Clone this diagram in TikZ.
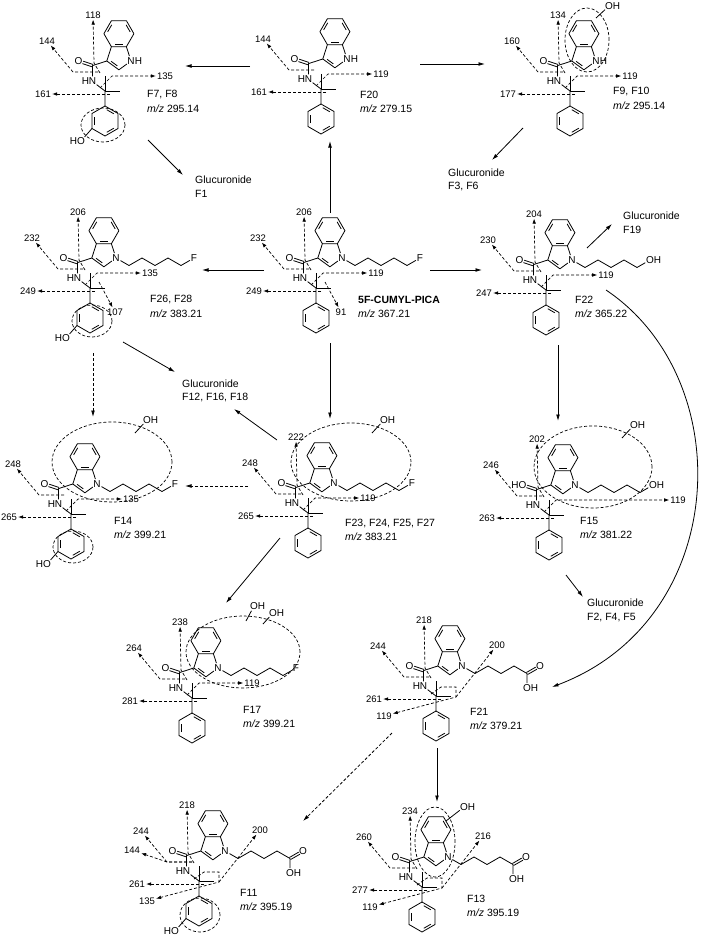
\documentclass[tikz,border=0pt]{standalone}
\usepackage{fontspec}
\setmainfont{Liberation Sans}
\usetikzlibrary{calc,arrows.meta,shapes.geometric}
\tikzset{
 bond/.style={line width=0.8pt,line join=round},
 atom/.style={circle,inner sep=0pt,minimum size=8.4pt,font=\fontsize{10}{12}\selectfont},
 htext/.style={inner sep=0pt,font=\fontsize{10}{12}\selectfont},
 frag/.style={line width=0.7pt,dash pattern=on 3pt off 2pt,-{Latex[length=5pt,width=3.6pt]}},
 flab/.style={inner sep=1pt,font=\fontsize{9.5}{11}\selectfont},
 rxn/.style={line width=0.8pt,-{Latex[length=6.5pt,width=3.8pt]}},
 drxn/.style={line width=0.8pt,dash pattern=on 3pt off 2pt,-{Latex[length=6.5pt,width=3.8pt]}},
 ell/.style={ellipse,draw,line width=0.7pt,dash pattern=on 3pt off 2pt,inner sep=0pt},
 txt/.style={anchor=west,inner sep=0pt,font=\fontsize{10.5}{12}\selectfont},
}
\newcommand\dbl[3]{\draw[bond] ($(#1)!0.17!(#2)!2.5pt!(#3)$) -- ($(#1)!0.83!(#2)!2.5pt!(#3)$);}
\newcommand\core[3]{%
\begin{scope}[shift={(#2,#3)}]
 \node[atom] (#1N) at (0,0) {N};
 \coordinate (#1C3a) at (-19.6,-14.3);
 \coordinate (#1C7a) at (-4.6,-14.3);
 \coordinate (#1C7) at (2.9,-27.3);
 \coordinate (#1C6) at (-4.6,-40.3);
 \coordinate (#1C5) at (-19.6,-40.3);
 \coordinate (#1C4) at (-27.1,-27.3);
 \coordinate (#1hc) at (-12.1,-27.3);
 \coordinate (#1pc) at (-12.1,-4.0);
 \coordinate (#1C2) at (-12.1,8.8);
 \coordinate (#1C3) at (-24.2,0);
 \coordinate (#1Cc) at (-38.5,4.6);
 \coordinate (#1Co1) at (-38.1,3.4); \coordinate (#1Oe1) at (-47.8,0.2);
 \coordinate (#1Co2) at (-38.9,5.8); \coordinate (#1Oe2) at (-48.6,2.6);
 \node[atom] (#1O) at (-52.5,0) {O};
 \node[atom] (#1Na) at (-38.5,20.5) {N};
 \node[htext] (#1Ha) at (-45.6,20.5) {H};
 \coordinate (#1Cq) at (-26,30);
 \coordinate (#1Me1) at (-11,30);
 \coordinate (#1Me2) at (-26,15);
 \coordinate (#1P1) at (-26,45);
 \coordinate (#1P2) at (-13,52.5);
 \coordinate (#1P3) at (-13,67.5);
 \coordinate (#1P4) at (-26,75);
 \coordinate (#1P5) at (-39,67.5);
 \coordinate (#1P6) at (-39,52.5);
 \coordinate (#1Pc) at (-26,60);
\end{scope}
\draw[bond] (#1C3a)--(#1C4)--(#1C5)--(#1C6)--(#1C7)--(#1C7a)--cycle;
\draw[bond] (#1C7a)--(#1N)--(#1C2)--(#1C3)--(#1C3a);
\dbl{#1C4}{#1C5}{#1hc}\dbl{#1C6}{#1C7}{#1hc}\dbl{#1C3a}{#1C7a}{#1hc}\dbl{#1C2}{#1C3}{#1pc}
\draw[bond] (#1C3)--(#1Cc)--(#1Na)--(#1Cq)--(#1P1);
\draw[bond] (#1Co1)--(#1Oe1) (#1Co2)--(#1Oe2);
\draw[bond] (#1Me2)--(#1Cq)--(#1Me1);
\draw[bond] (#1P1)--(#1P2)--(#1P3)--(#1P4)--(#1P5)--(#1P6)--cycle;
\dbl{#1P1}{#1P2}{#1Pc}\dbl{#1P3}{#1P4}{#1Pc}\dbl{#1P5}{#1P6}{#1Pc}
}
\newcommand\nh[1]{\node[htext] (#1Hn) at ($(#1N)+(7.4,0)$) {H};}
\newcommand\chain[4]{%
\begin{scope}[shift={(#2,#3)}]
 \coordinate (#1ch1) at (13,7.5); \coordinate (#1ch2) at (26,0); \coordinate (#1ch3) at (39,7.5);
 \coordinate (#1ch4) at (52,0); \coordinate (#1ch5) at (65,7.5);
 \node[atom] (#1X) at (78,0) {#4};
\end{scope}
\draw[bond] (#1N)--(#1ch1)--(#1ch2)--(#1ch3)--(#1ch4)--(#1ch5)--(#1X);}
\newcommand\acid[3]{%
\begin{scope}[shift={(#2,#3)}]
 \coordinate (#1ch1) at (13,7.5); \coordinate (#1ch2) at (26,0); \coordinate (#1ch3) at (39,7.5);
 \coordinate (#1ch4) at (52,0); \coordinate (#1ch5) at (65,7.5);
 \coordinate (#1oa1) at (64.4,6.5); \coordinate (#1oa1e) at (73.7,1.1);
 \coordinate (#1oa2) at (65.6,8.5); \coordinate (#1oa2e) at (74.9,3.2);
 \node[atom] (#1O2) at (78,0) {O};
 \node[atom] (#1O3) at (65,22.5) {O};
 \node[htext] (#1H3) at (72.4,22.5) {H};
\end{scope}
\draw[bond] (#1N)--(#1ch1)--(#1ch2)--(#1ch3)--(#1ch4)--(#1ch5)--(#1O3);
\draw[bond] (#1oa1)--(#1oa1e) (#1oa2)--(#1oa2e);}
\newcommand\phoh[3]{%
\begin{scope}[shift={(#2,#3)}]
 \node[atom] (#1Ph) at (-50,80) {O};
 \node[htext] (#1PhH) at (-57.4,80) {H};
\end{scope}
\draw[bond] (#1P5)--(#1Ph);}
\newcommand\ohb[5]{%
 \coordinate (#1os) at (#2,#3);
 \node[atom] (#1oO) at (#4,#5) {O};
 \node[htext] (#1oH) at (#4+7.4,#5) {H};
 \draw[bond] (#1os)--(#1oO);}
% fragment arrows
\newcommand\fA[4]{%
\begin{scope}[shift={(#2,#3)}]
 \coordinate (#1fa1) at (-33,11); \coordinate (#1fa2) at (-58,11);
 \node[flab] (#1faL) at (-84,-20) {#4};
\end{scope}
\draw[frag] (#1fa1)--(#1fa2)--(#1faL);}
\newcommand\fAp[4]{%
\begin{scope}[shift={(#2,#3)}]
 \node[flab] (#1fpL) at (-93,-1) {#4};
\end{scope}
\draw[frag] (#1fa1)--(#1fa2)--(#1fpL);}
\newcommand\fB[4]{%
\begin{scope}[shift={(#2,#3)}]
 \coordinate (#1fb1) at (-31,12); \coordinate (#1fb2) at (-37,2);
 \node[flab] (#1fbL) at (-38,-46) {#4};
\end{scope}
\draw[frag] (#1fb1)--(#1fb2)--(#1fbL);}
\newcommand\fC[5]{%
\begin{scope}[shift={(#2,#3)}]
 \coordinate (#1fc1) at (-31,27); \coordinate (#1fc2) at (-19,15);
 \node[flab] (#1fcL) at (#5,15) {#4};
\end{scope}
\draw[frag] (#1fc1)--(#1fc2)--(#1fcL);}
\newcommand\fD[4]{%
\begin{scope}[shift={(#2,#3)}]
 \coordinate (#1fd1) at (-21,33);
 \node[flab] (#1fdL) at (-88,33) {#4};
\end{scope}
\draw[frag] (#1fd1)--(#1fdL);}
\newcommand\fE[4]{%
\begin{scope}[shift={(#2,#3)}]
 \coordinate (#1fe1) at (-17,24);
 \node[flab] (#1feL) at (-1,54) {#4};
\end{scope}
\draw[frag] (#1fe1)--(#1feL);}
\newcommand\fG[4]{%
\begin{scope}[shift={(#2,#3)}]
 \coordinate (#1fg1) at (-6,31);
 \node[flab] (#1fgL) at (35,-21) {#4};
\end{scope}
\draw[frag] (#1fg1)--(#1fgL);}
\newcommand\fH[4]{%
\begin{scope}[shift={(#2,#3)}]
 \coordinate (#1fh1) at (-31,28); \coordinate (#1fh2) at (-21,21);
 \coordinate (#1fh3) at (-6,21); \coordinate (#1fh4) at (-6,31);
 \node[flab] (#1fhL) at (-78,50) {#4};
\end{scope}
\draw[frag] (#1fh1)--(#1fh2)--(#1fh3)--(#1fh4)--(#1fhL);}

\begin{document}
\begin{tikzpicture}[x=1pt,y=-1pt]
\useasboundingbox (0,0) rectangle (709,939);
\fill[white] (0,0) rectangle (709,939);

% ---------- F7, F8
\core{a}{131}{61}\nh{a}
\fB{a}{131}{61}{118}\fA{a}{131}{61}{144}\fC{a}{131}{61}{135}{34}\fD{a}{131}{61}{161}
\phoh{a}{131}{61}
\node[ell,minimum width=44pt,minimum height=34pt] (ael) at (103,125) {};
\node[txt] (an1) at (147,95) {F7, F8};
\node[txt] (an2) at (147,109) {\textit{m/z} 295.14};

% ---------- F20
\core{b}{347}{59}\nh{b}
\fA{b}{347}{59}{144}\fC{b}{347}{59}{119}{34}\fD{b}{347}{59}{161}
\node[txt] (bn1) at (360,95) {F20};
\node[txt] (bn2) at (360,109) {\textit{m/z} 279.15};

% ---------- F9, F10
\core{c}{596}{61}\nh{c}
\fB{c}{596}{61}{134}\fA{c}{596}{61}{160}\fC{c}{596}{61}{119}{34}\fD{c}{596}{61}{177}
\node[ell,minimum width=44pt,minimum height=64pt] (cel) at (587,40) {};
\ohb{c}{596}{18}{609}{6}
\node[txt] (cn1) at (613,92) {F9, F10};
\node[txt] (cn2) at (613,106) {\textit{m/z} 295.14};

% ---------- 5F-CUMYL-PICA
\core{m}{342}{258}\chain{m}{342}{258}{F}
\fB{m}{342}{258}{206}\fA{m}{342}{258}{232}\fC{m}{342}{258}{119}{34}\fD{m}{342}{258}{249}\fE{m}{342}{258}{91}
\node[txt] (mn1) at (358,300) {\textbf{5F-CUMYL-PICA}};
\node[txt] (mn2) at (358,314) {\textit{m/z} 367.21};

% ---------- F26, F28
\core{d}{116}{258}\chain{d}{116}{258}{F}
\fB{d}{116}{258}{206}\fA{d}{116}{258}{232}\fC{d}{116}{258}{135}{34}\fD{d}{116}{258}{249}\fE{d}{116}{258}{107}
\phoh{d}{116}{258}
\node[ell,minimum width=40pt,minimum height=32pt] (del) at (92,321) {};
\node[txt] (dn1) at (150,300) {F26, F28};
\node[txt] (dn2) at (150,314) {\textit{m/z} 383.21};

% ---------- F22
\core{e}{572}{260}\chain{e}{572}{260}{O}\node[htext] (eXH) at (657.4,260) {H};
\fB{e}{572}{260}{204}\fA{e}{572}{260}{230}\fC{e}{572}{260}{119}{34}\fD{e}{572}{260}{247}
\node[txt] (en1) at (575,300) {F22};
\node[txt] (en2) at (575,314) {\textit{m/z} 365.22};

% ---------- F14
\core{f}{97}{484}\chain{f}{97}{484}{F}
\fA{f}{97}{484}{248}\fC{f}{97}{484}{135}{34}\fD{f}{97}{484}{265}
\phoh{f}{97}{484}
\node[ell,minimum width=40pt,minimum height=32pt] (fel2) at (73,547) {};
\node[ell,minimum width=120pt,minimum height=80pt] (fel) at (112,462) {};
\ohb{f}{135}{433}{147}{420}
\node[txt] (fn1) at (114,521) {F14};
\node[txt] (fn2) at (114,535) {\textit{m/z} 399.21};

% ---------- F23, F24, F25, F27
\core{g}{334}{483}\chain{g}{334}{483}{F}
\fB{g}{334}{483}{222}\fA{g}{334}{483}{248}\fC{g}{334}{483}{119}{34}\fD{g}{334}{483}{265}
\node[ell,minimum width=120pt,minimum height=78pt] (gel) at (351,462) {};
\ohb{g}{372}{433}{384}{420}
\node[txt] (gn1) at (345,523) {F23, F24, F25, F27};
\node[txt] (gn2) at (345,537) {\textit{m/z} 383.21};

% ---------- F15
\core{h}{575}{485}\node[htext] (hOH) at (515.1,485) {H};
\chain{h}{575}{485}{O}\node[htext] (hXH) at (660.4,485) {H};
\fB{h}{575}{485}{202}\fA{h}{575}{485}{246}\fC{h}{575}{485}{119}{103}\fD{h}{575}{485}{263}
\node[ell,minimum width=118pt,minimum height=82pt] (hel) at (593,467) {};
\ohb{h}{622}{438}{634}{425}
\node[txt] (hn1) at (580,521) {F15};
\node[txt] (hn2) at (580,535) {\textit{m/z} 381.22};

% ---------- F17
\core{i}{218}{668}\chain{i}{218}{668}{F}
\fB{i}{218}{668}{238}\fA{i}{218}{668}{264}\fC{i}{218}{668}{119}{34}\fD{i}{218}{668}{281}
\node[ell,minimum width=114pt,minimum height=72pt] (iel) at (243,652) {};
\ohb{i}{246}{621}{254}{606}\ohb{iz}{263}{624}{273}{613}
\node[txt] (in1) at (243,710) {F17};
\node[txt] (in2) at (243,724) {\textit{m/z} 399.21};

% ---------- F21
\core{j}{462}{666}\acid{j}{462}{666}
\fB{j}{462}{666}{218}\fA{j}{462}{666}{244}\fD{j}{462}{666}{261}\fG{j}{462}{666}{200}\fH{j}{462}{666}{119}
\node[txt] (jn1) at (470,712) {F21};
\node[txt] (jn2) at (470,726) {\textit{m/z} 379.21};

% ---------- F11
\core{k}{225}{851}\acid{k}{225}{851}
\fB{k}{225}{851}{218}\fA{k}{225}{851}{244}\fAp{k}{225}{851}{144}\fD{k}{225}{851}{261}\fG{k}{225}{851}{200}\fH{k}{225}{851}{135}
\phoh{k}{225}{851}
\node[ell,minimum width=40pt,minimum height=34pt] (kel) at (200,915) {};
\node[txt] (kn1) at (240,893) {F11};
\node[txt] (kn2) at (240,907) {\textit{m/z} 395.19};

% ---------- F13
\core{l}{448}{857}\acid{l}{448}{857}
\fB{l}{448}{857}{234}\fA{l}{448}{857}{260}\fD{l}{448}{857}{277}\fG{l}{448}{857}{216}\fH{l}{448}{857}{119}
\node[ell,minimum width=40pt,minimum height=70pt] (lel) at (435,842) {};
\ohb{l}{446}{821}{464}{807}
\node[txt] (ln1) at (467,899) {F13};
\node[txt] (ln2) at (467,913) {\textit{m/z} 395.19};

% ---------- glucuronide texts
\node[txt] (g1a) at (195,180) {Glucuronide};
\node[txt] (g1b) at (195,194) {F1};
\node[txt] (g2a) at (448,173) {Glucuronide};
\node[txt] (g2b) at (448,187) {F3, F6};
\node[txt] (g3a) at (623,216) {Glucuronide};
\node[txt] (g3b) at (623,230) {F19};
\node[txt] (g4a) at (182,384) {Glucuronide};
\node[txt] (g4b) at (182,398) {F12, F16, F18};
\node[txt] (g5a) at (587,603) {Glucuronide};
\node[txt] (g5b) at (587,617) {F2, F4, F5};

% ---------- reaction arrows
\coordinate (r1a) at (330,213); \coordinate (r1b) at (330,141);
\coordinate (r2a) at (250,66);  \coordinate (r2b) at (185,66);
\coordinate (r3a) at (420,64);  \coordinate (r3b) at (485,64);
\coordinate (r4a) at (264,270); \coordinate (r4b) at (202,270);
\coordinate (r5a) at (430,270); \coordinate (r5b) at (482,270);
\coordinate (r6a) at (330,343); \coordinate (r6b) at (330,419);
\coordinate (r7a) at (558,345); \coordinate (r7b) at (558,421);
\coordinate (r8a) at (148,140); \coordinate (r8b) at (183,175);
\coordinate (r9a) at (523,128); \coordinate (r9b) at (492,160);
\coordinate (r10a) at (587,248); \coordinate (r10b) at (612,224);
\coordinate (r11a) at (123,342); \coordinate (r11b) at (175,372);
\coordinate (r12a) at (277,440); \coordinate (r12b) at (234,409);
\coordinate (r13a) at (566,575); \coordinate (r13b) at (583,597);
\coordinate (r14a) at (280,538); \coordinate (r14b) at (226,603);
\coordinate (r15a) at (437,748); \coordinate (r15b) at (437,802);
\coordinate (r16a) at (606,290); \coordinate (r16b) at (552,687);
\coordinate (d1a) at (93,353);  \coordinate (d1b) at (93,417);
\coordinate (d2a) at (248,486); \coordinate (d2b) at (185,486);
\coordinate (d3a) at (392,733); \coordinate (d3b) at (303,821);
\foreach \k in {1,...,15} {\draw[rxn] (r\k a) -- (r\k b);}
\draw[rxn] (r16a) .. controls (740,380) and (730,620) .. (r16b);
\foreach \k in {1,2,3} {\draw[drxn] (d\k a) -- (d\k b);}
\end{tikzpicture}
\end{document}
